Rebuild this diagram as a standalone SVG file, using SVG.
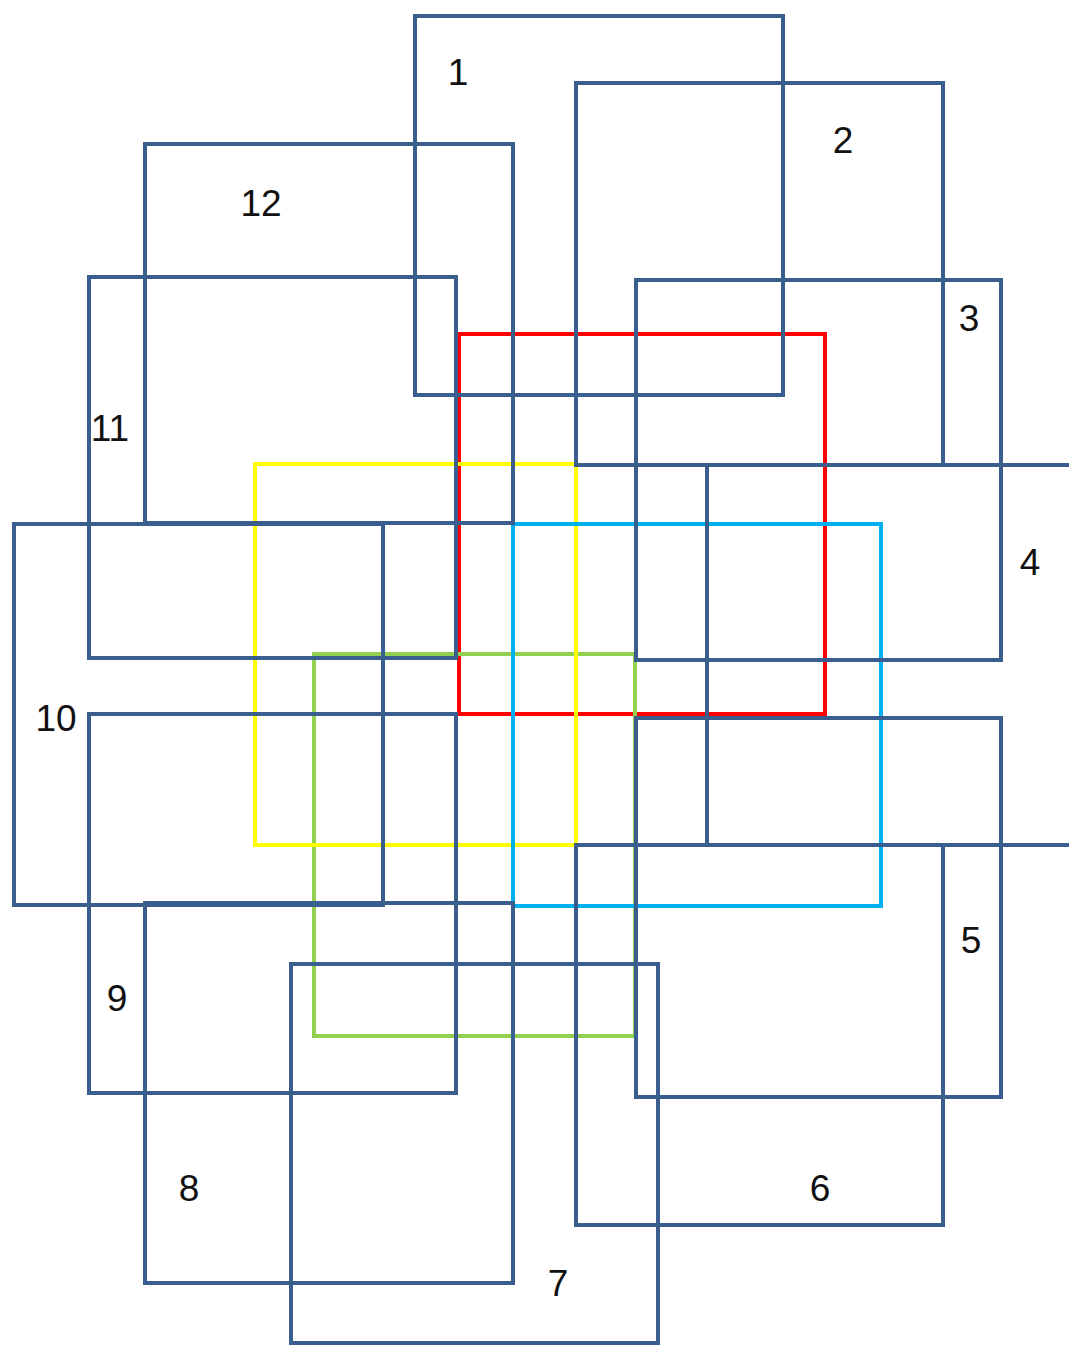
<svg xmlns="http://www.w3.org/2000/svg" width="1069" height="1345" viewBox="0 0 1069 1345">
<style>
  rect { fill: none; stroke-width: 4; }
  .b { stroke: #3A5F8F; }
  .red { stroke: #FF0000; }
  .yel { stroke: #FFFF00; }
  .cy { stroke: #00B0F0; }
  .gr { stroke: #92D050; }
  text { font-family: "Liberation Sans", "Open Sans", sans-serif; font-size: 37px; fill: #111111; text-anchor: middle; }
</style>
<rect x="0" y="0" width="1069" height="1345" style="fill:#ffffff;stroke:none"/>
<g id="colored">
  <g id="red"><rect class="red" x="459" y="334" width="366" height="380"/></g>
  <g id="green"><rect class="gr" x="314" y="654" width="321" height="382"/></g>
  <g id="yellow"><rect class="yel" x="255" y="464" width="321" height="381"/></g>
  <g id="cyan"><rect class="cy" x="513" y="524" width="368" height="382"/></g>
</g>
<g id="n1"><rect class="b" x="415" y="16" width="368" height="379"/><text x="458" y="85">1</text></g>
<g id="n2"><rect class="b" x="576" y="83" width="367" height="382"/><text x="843" y="153">2</text></g>
<g id="n12"><rect class="b" x="145" y="144" width="368" height="379"/><text x="261" y="216">12</text></g>
<g id="n3"><rect class="b" x="636" y="280" width="365" height="380"/><text x="969" y="331">3</text></g>
<g id="n11"><rect class="b" x="89" y="277" width="367" height="381"/><text x="110" y="441">11</text></g>
<g id="n4"><rect class="b" x="707" y="465" width="380" height="380"/><text x="1030" y="575">4</text></g>
<g id="n10"><rect class="b" x="14" y="524" width="369" height="381"/><text x="56" y="731">10</text></g>
<g id="n9"><rect class="b" x="89" y="714" width="367" height="379"/><text x="117" y="1011">9</text></g>
<g id="n5"><rect class="b" x="636" y="718" width="365" height="379"/><text x="971" y="953">5</text></g>
<g id="n6"><rect class="b" x="576" y="845" width="367" height="380"/><text x="820" y="1201">6</text></g>
<g id="n8"><rect class="b" x="145" y="903" width="368" height="380"/><text x="189" y="1201">8</text></g>
<g id="n7"><rect class="b" x="291" y="964" width="367" height="379"/><text x="558" y="1296">7</text></g>
<g id="connectors"></g>
</svg>
